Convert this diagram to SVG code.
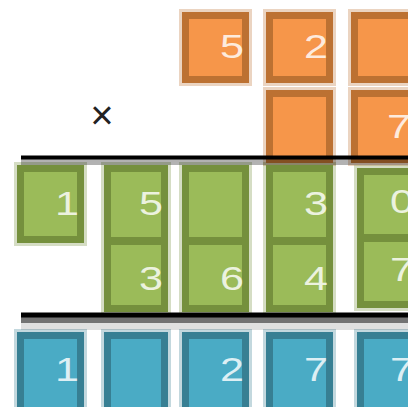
<svg xmlns="http://www.w3.org/2000/svg" width="408" height="407" viewBox="0 0 408 407">
<defs>
<style>
.halo{fill:none;stroke-width:13;stroke-opacity:0.3}
.box{stroke-width:7}
.o{fill:#F6964A;stroke:#BC7132}
.oh{stroke:#BC7132}
.g{fill:#9BBB59;stroke:#75903D}
.gh{stroke:#75903D}
.b{fill:#4AABC5;stroke:#377F93}
.bh{stroke:#377F93}
.n{font-family:"Liberation Sans",Arial,sans-serif;font-size:34px;fill:#fff;fill-opacity:0.82;text-anchor:end}
</style>
</defs>
<rect width="408" height="407" fill="#fff"/>
<g id="halos">
<rect class="halo oh" x="185.5" y="15.5" width="60" height="64"/>
<rect class="halo oh" x="269.5" y="15.5" width="60" height="64"/>
<rect class="halo oh" x="354.5" y="15.5" width="60" height="64"/>
<rect class="halo oh" x="269.5" y="93.5" width="60" height="66"/>
<rect class="halo oh" x="354.5" y="93.5" width="60" height="66"/>
<rect class="halo gh" x="20.5" y="168.5" width="60" height="71"/>
<rect class="halo gh" x="107.5" y="168.5" width="57" height="140"/>
<rect class="halo gh" x="185.5" y="168.5" width="60" height="140"/>
<rect class="halo gh" x="269.5" y="168.5" width="60" height="140"/>
<rect class="halo gh" x="360.5" y="171.5" width="60" height="133"/>
<rect class="halo bh" x="20.5" y="335.5" width="60" height="80"/>
<rect class="halo bh" x="107.5" y="335.5" width="57" height="80"/>
<rect class="halo bh" x="185.5" y="335.5" width="60" height="80"/>
<rect class="halo bh" x="269.5" y="335.5" width="60" height="80"/>
<rect class="halo bh" x="360.5" y="335.5" width="60" height="80"/>
</g>
<g id="orange">
<g id="o1"><rect class="box o" x="185.5" y="15.5" width="60" height="64"/><text class="n" x="244" y="58" textLength="24" lengthAdjust="spacingAndGlyphs">5</text></g>
<g id="o2"><rect class="box o" x="269.5" y="15.5" width="60" height="64"/><text class="n" x="328" y="58" textLength="24" lengthAdjust="spacingAndGlyphs">2</text></g>
<g id="o3"><rect class="box o" x="354.5" y="15.5" width="60" height="64"/></g>
<g id="o4"><rect class="box o" x="269.5" y="93.5" width="60" height="66"/></g>
<g id="o5"><rect class="box o" x="354.5" y="93.5" width="60" height="66"/><text class="n" x="411" y="138" textLength="24" lengthAdjust="spacingAndGlyphs">7</text></g>
</g>
<g id="times"><text x="102" y="129" font-family="Liberation Sans,Arial,sans-serif" font-size="40" fill="#222" text-anchor="middle">×</text></g>
<g id="connectors">
<rect x="21" y="159" width="387" height="6" fill="#000" fill-opacity="0.3"/>
<line x1="21" y1="157.5" x2="408" y2="157.5" stroke="#000" stroke-width="4"/>
</g>
<g id="green">
<g id="gA"><rect class="box g" x="20.5" y="168.5" width="60" height="71"/><text class="n" x="79" y="215" textLength="24" lengthAdjust="spacingAndGlyphs">1</text></g>
<g id="gB1"><rect class="box g" x="107.5" y="168.5" width="57" height="72"/><text class="n" x="163" y="215" textLength="24" lengthAdjust="spacingAndGlyphs">5</text></g>
<g id="gB2"><rect class="box g" x="107.5" y="241.5" width="57" height="67"/><text class="n" x="163" y="290" textLength="24" lengthAdjust="spacingAndGlyphs">3</text></g>
<g id="gC1"><rect class="box g" x="185.5" y="168.5" width="60" height="72"/></g>
<g id="gC2"><rect class="box g" x="185.5" y="241.5" width="60" height="67"/><text class="n" x="244" y="290" textLength="24" lengthAdjust="spacingAndGlyphs">6</text></g>
<g id="gD1"><rect class="box g" x="269.5" y="168.5" width="60" height="72"/><text class="n" x="328" y="215" textLength="24" lengthAdjust="spacingAndGlyphs">3</text></g>
<g id="gD2"><rect class="box g" x="269.5" y="241.5" width="60" height="67"/><text class="n" x="328" y="290" textLength="24" lengthAdjust="spacingAndGlyphs">4</text></g>
<g id="gE1"><rect class="box g" x="360.5" y="171.5" width="60" height="66"/><text class="n" x="414" y="213" textLength="24" lengthAdjust="spacingAndGlyphs">0</text></g>
<g id="gE2"><rect class="box g" x="360.5" y="238.5" width="60" height="66"/><text class="n" x="414" y="281" textLength="24" lengthAdjust="spacingAndGlyphs">7</text></g>
</g>
<g id="connectors2">
<rect x="21" y="317" width="387" height="6" fill="#000" fill-opacity="0.55"/>
<rect x="21" y="323" width="387" height="7" fill="#000" fill-opacity="0.12"/>
<line x1="21" y1="315" x2="408" y2="315" stroke="#000" stroke-width="5"/>
</g>
<g id="blue">
<g id="bA"><rect class="box b" x="20.5" y="335.5" width="60" height="80"/><text class="n" x="79" y="381" textLength="24" lengthAdjust="spacingAndGlyphs">1</text></g>
<g id="bB"><rect class="box b" x="107.5" y="335.5" width="57" height="80"/></g>
<g id="bC"><rect class="box b" x="185.5" y="335.5" width="60" height="80"/><text class="n" x="244" y="381" textLength="24" lengthAdjust="spacingAndGlyphs">2</text></g>
<g id="bD"><rect class="box b" x="269.5" y="335.5" width="60" height="80"/><text class="n" x="328" y="381" textLength="24" lengthAdjust="spacingAndGlyphs">7</text></g>
<g id="bE"><rect class="box b" x="360.5" y="335.5" width="60" height="80"/><text class="n" x="414" y="381" textLength="24" lengthAdjust="spacingAndGlyphs">7</text></g>
</g>
</svg>
